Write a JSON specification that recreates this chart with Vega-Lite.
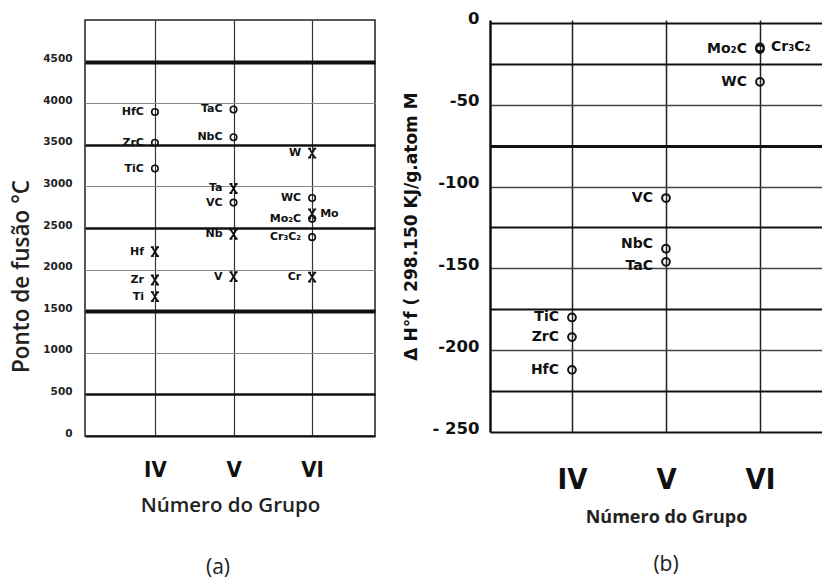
{
  "$schema": "https://vega.github.io/schema/vega-lite/v6.json",
  "background": "white",
  "padding": {"left": 9, "top": 10, "right": 0, "bottom": 0},
  "autosize": {"type": "pad"},
  "bounds": "flush",
  "spacing": 115,
  "config": {"view": {"stroke": null}, "axis": {"ticks": false, "labelOverlap": false, "labelFlush": false}},
  "datasets": {
    "melting": [
      {"group": 4, "label": "HfC", "kind": "carbide", "temp": 3895},
      {"group": 4, "label": "ZrC", "kind": "carbide", "temp": 3525},
      {"group": 4, "label": "TiC", "kind": "carbide", "temp": 3215},
      {"group": 4, "label": "Hf", "kind": "metal", "temp": 2215},
      {"group": 4, "label": "Zr", "kind": "metal", "temp": 1875},
      {"group": 4, "label": "Ti", "kind": "metal", "temp": 1675},
      {"group": 5, "label": "TaC", "kind": "carbide", "temp": 3925},
      {"group": 5, "label": "NbC", "kind": "carbide", "temp": 3590},
      {"group": 5, "label": "Ta", "kind": "metal", "temp": 2975},
      {"group": 5, "label": "VC", "kind": "carbide", "temp": 2805},
      {"group": 5, "label": "Nb", "kind": "metal", "temp": 2425},
      {"group": 5, "label": "V", "kind": "metal", "temp": 1915},
      {"group": 6, "label": "W", "kind": "metal", "temp": 3400},
      {"group": 6, "label": "WC", "kind": "carbide", "temp": 2860},
      {"group": 6, "label": "Mo", "kind": "metal", "temp": 2670},
      {"group": 6, "label": "Mo₂C", "kind": "carbide", "temp": 2610},
      {"group": 6, "label": "Cr₃C₂", "kind": "carbide", "temp": 2390},
      {"group": 6, "label": "Cr", "kind": "metal", "temp": 1910}
    ],
    "enthalpy": [
      {"group": 6, "label": "Mo₂C", "dh": -16},
      {"group": 6, "label": "Cr₃C₂", "dh": -15},
      {"group": 6, "label": "WC", "dh": -36},
      {"group": 5, "label": "VC", "dh": -107},
      {"group": 5, "label": "NbC", "dh": -138},
      {"group": 5, "label": "TaC", "dh": -146},
      {"group": 4, "label": "TiC", "dh": -180},
      {"group": 4, "label": "ZrC", "dh": -192},
      {"group": 4, "label": "HfC", "dh": -212}
    ]
  },
  "hconcat": [
    {
      "width": 290,
      "height": 416,
      "view": {"stroke": "#222", "strokeWidth": 1.5},
      "title": {"text": "(a)", "orient": "bottom", "anchor": "middle", "frame": "group", "dx": -12, "offset": 41, "font": "Open Sans", "fontSize": 21, "fontWeight": "normal", "color": "#222"},
      "data": {"name": "melting"},
      "encoding": {
        "x": {
          "field": "group", "type": "quantitative",
          "scale": {"domain": [3.11, 6.8], "nice": false, "zero": false},
          "axis": {
            "values": [4, 5, 6],
            "labelExpr": "datum.value == 4 ? 'IV' : (datum.value == 5 ? 'V' : 'VI')",
            "labelFont": "DejaVu Sans Condensed, DejaVu Sans, sans-serif",
            "labelFontSize": 22, "labelFontWeight": "bold", "labelColor": "#111",
            "labelPadding": 23, "labelAngle": 0,
            "domain": false, "grid": true, "gridColor": "#333", "gridWidth": 1.2,
            "title": "Número do Grupo", "titleFont": "Open Sans", "titleFontSize": 20.5,
            "titleFontWeight": 600, "titleColor": "#222", "titlePadding": 15
          }
        },
        "y": {
          "field": "temp", "type": "quantitative",
          "scale": {"domain": [0, 5000], "nice": false},
          "axis": {
            "values": [0, 500, 1000, 1500, 2000, 2500, 3000, 3500, 4000, 4500],
            "format": "d",
            "labelFont": "DejaVu Sans", "labelFontSize": 10.5, "labelFontWeight": "bold",
            "labelColor": "#222", "labelPadding": 13, "labelOffset": -3,
            "domain": false, "grid": true,
            "gridColor": {"condition": {"test": "datum.value % 1000 == 0 && datum.value > 0", "value": "#8a8a8a"}, "value": "#111"},
            "gridWidth": {"condition": [
              {"test": "datum.value == 1500 || datum.value == 4500", "value": 4},
              {"test": "datum.value % 1000 == 500", "value": 2.5},
              {"test": "datum.value == 0", "value": 2}
            ], "value": 1},
            "title": "Ponto de fusão °C", "titleFont": "Open Sans", "titleFontSize": 22.5,
            "titleFontWeight": 600, "titleColor": "#222",
            "titleX": -64, "titleY": 256, "titleBaseline": "middle", "titleAlign": "center"
          }
        }
      },
      "layer": [
        {
          "transform": [{"filter": "datum.kind == 'carbide'"}],
          "mark": {"type": "point", "shape": "circle", "size": 42, "filled": false, "stroke": "#111", "strokeWidth": 1.6, "opacity": 1}
        },
        {
          "transform": [{"filter": "datum.kind == 'metal'"}],
          "mark": {"type": "point", "shape": "M-0.6,-1L0.6,1M0.6,-1L-0.6,1M-0.9,-1L-0.25,-1M0.25,-1L0.9,-1M-0.9,1L-0.25,1M0.25,1L0.9,1", "size": 81, "filled": false, "stroke": "#111", "strokeWidth": 1.8, "opacity": 1}
        },
        {
          "transform": [{"filter": "datum.label != 'Mo'"}],
          "mark": {"type": "text", "align": "right", "baseline": "middle", "dx": -11, "font": "DejaVu Sans", "fontSize": 11, "fontWeight": "bold", "color": "#111"},
          "encoding": {"text": {"field": "label"}}
        },
        {
          "transform": [{"filter": "datum.label == 'Mo'"}],
          "mark": {"type": "text", "align": "left", "baseline": "middle", "dx": 8, "font": "DejaVu Sans", "fontSize": 11, "fontWeight": "bold", "color": "#111"},
          "encoding": {"text": {"field": "label"}}
        }
      ]
    },
    {
      "width": 334,
      "height": 412,
      "title": {"text": "(b)", "orient": "bottom", "anchor": "middle", "frame": "group", "dx": 9, "offset": 28, "font": "Open Sans", "fontSize": 21, "fontWeight": "normal", "color": "#222"},
      "data": {"name": "enthalpy"},
      "encoding": {
        "x": {
          "field": "group", "type": "quantitative",
          "scale": {"domain": [3.128, 6.681], "nice": false, "zero": false},
          "axis": {
            "values": [4, 5, 6],
            "labelExpr": "datum.value == 4 ? 'IV' : (datum.value == 5 ? 'V' : 'VI')",
            "labelFont": "DejaVu Sans Condensed, DejaVu Sans, sans-serif",
            "labelFontSize": 29, "labelFontWeight": "bold", "labelColor": "#111",
            "labelPadding": 33, "labelAngle": 0,
            "domain": false, "grid": true, "gridColor": "#222", "gridWidth": 1.5,
            "title": "Número do Grupo", "titleFont": "Open Sans", "titleFontSize": 18,
            "titleFontWeight": "bold", "titleColor": "#222", "titlePadding": 14, "titleX": 176
          }
        },
        "y": {
          "field": "dh", "type": "quantitative",
          "scale": {"domain": [-250, 1.8], "nice": false, "zero": false},
          "axis": {
            "values": [0, -25, -50, -75, -100, -125, -150, -175, -200, -225, -250],
            "labelExpr": "datum.value % 50 == 0 ? (datum.value == 0 ? '0' : (datum.value == -250 ? '- 250' : '-' + abs(datum.value))) : ''",
            "labelFont": "DejaVu Sans", "labelFontSize": 16.5, "labelFontWeight": "bold",
            "labelColor": "#111", "labelPadding": 11, "labelOffset": -4,
            "domain": true, "domainColor": "#111", "domainWidth": 2.5,
            "grid": true,
            "gridColor": {"condition": {"test": "datum.value % 50 == 0 && datum.value < 0 && datum.value > -250", "value": "#444"}, "value": "#111"},
            "gridWidth": {"condition": [
              {"test": "datum.value == -75", "value": 3},
              {"test": "datum.value % 50 == 0 && datum.value < 0 && datum.value > -250", "value": 1.4}
            ], "value": 2},
            "title": "Δ H°f ( 298.150 KJ/g.atom M", "titleFont": "DejaVu Sans", "titleFontSize": 17,
            "titleFontWeight": "bold", "titleColor": "#111",
            "titleX": -79, "titleBaseline": "middle", "titleAlign": "center"
          }
        }
      },
      "layer": [
        {
          "mark": {"type": "point", "shape": "circle", "size": 60, "filled": false, "stroke": "#111", "strokeWidth": 2, "opacity": 1}
        },
        {
          "transform": [{"filter": "datum.label != 'Cr₃C₂' && datum.label != 'NbC' && datum.label != 'TaC'"}],
          "mark": {"type": "text", "align": "right", "baseline": "middle", "dx": -13, "font": "DejaVu Sans", "fontSize": 14, "fontWeight": "bold", "color": "#111"},
          "encoding": {"text": {"field": "label"}}
        },
        {
          "transform": [{"filter": "datum.label == 'NbC'"}],
          "mark": {"type": "text", "align": "right", "baseline": "middle", "dx": -13, "dy": -5, "font": "DejaVu Sans", "fontSize": 14, "fontWeight": "bold", "color": "#111"},
          "encoding": {"text": {"field": "label"}}
        },
        {
          "transform": [{"filter": "datum.label == 'TaC'"}],
          "mark": {"type": "text", "align": "right", "baseline": "middle", "dx": -13, "dy": 4, "font": "DejaVu Sans", "fontSize": 14, "fontWeight": "bold", "color": "#111"},
          "encoding": {"text": {"field": "label"}}
        },
        {
          "transform": [{"filter": "datum.label == 'Cr₃C₂'"}],
          "mark": {"type": "text", "align": "left", "baseline": "middle", "dx": 11, "font": "DejaVu Sans", "fontSize": 14, "fontWeight": "bold", "color": "#111"},
          "encoding": {"text": {"field": "label"}}
        }
      ]
    }
  ]
}
